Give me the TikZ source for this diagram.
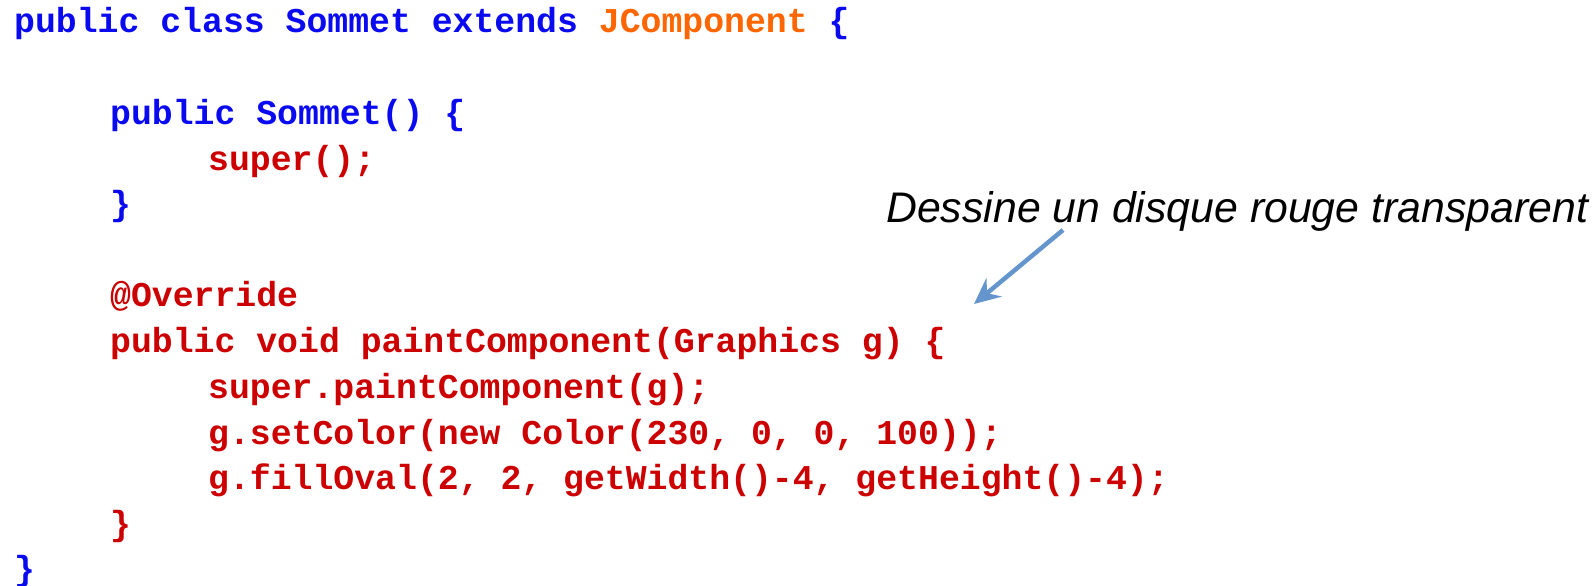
\documentclass[tikz,border=0pt]{standalone}
\usepackage{fontspec}
\setmonofont{Liberation Mono}
\newfontfamily\annfont{Liberation Sans}
\usetikzlibrary{arrows.meta}
\definecolor{kwblue}{RGB}{10,10,240}
\definecolor{codered}{RGB}{204,0,0}
\definecolor{jorange}{RGB}{255,102,0}
\definecolor{arrowblue}{RGB}{100,150,205}
\tikzset{
  code/.style={anchor=base west, inner sep=0pt, font=\fontsize{34.8}{40}\selectfont\ttfamily\bfseries},
  blueline/.style={code, text=kwblue},
  redline/.style={code, text=codered},
  ann/.style={anchor=base west, inner sep=0pt, font=\fontsize{42.8}{48}\selectfont\annfont\itshape},
  pointer/.style={draw=arrowblue, line width=4.5pt, -{Stealth[length=26pt,width=24pt,inset=9pt]}}
}
\begin{document}
\begin{tikzpicture}[x=1pt,y=-1pt]
\useasboundingbox (0,0) rectangle (1595,586);
\node[blueline] (l0) at (14,33) {public class Sommet extends \textcolor{jorange}{JComponent} \{};
\node[blueline] (l2) at (110,124) {public Sommet() \{};
\node[redline] (l3) at (208,170) {super();};
\node[blueline] (l4) at (110,215) {\}};
\node[redline] (l6) at (110,306) {@Override};
\node[redline] (l7) at (110,352) {public void paintComponent(Graphics g) \{};
\node[redline] (l8) at (208,398) {super.paintComponent(g);};
\node[redline] (l9) at (208,444) {g.setColor(new Color(230, 0, 0, 100));};
\node[redline] (l10) at (208,489) {g.fillOval(2, 2, getWidth()-4, getHeight()-4);};
\node[redline] (l11) at (110,535) {\}};
\node[blueline] (l12) at (14,580) {\}};
\node[ann] (note) at (886,222) {Dessine un disque rouge transparent};
\coordinate (as) at (1063,230);
\coordinate (ae) at (974,304);
\draw[pointer] (as) -- (ae);
\end{tikzpicture}
\end{document}
